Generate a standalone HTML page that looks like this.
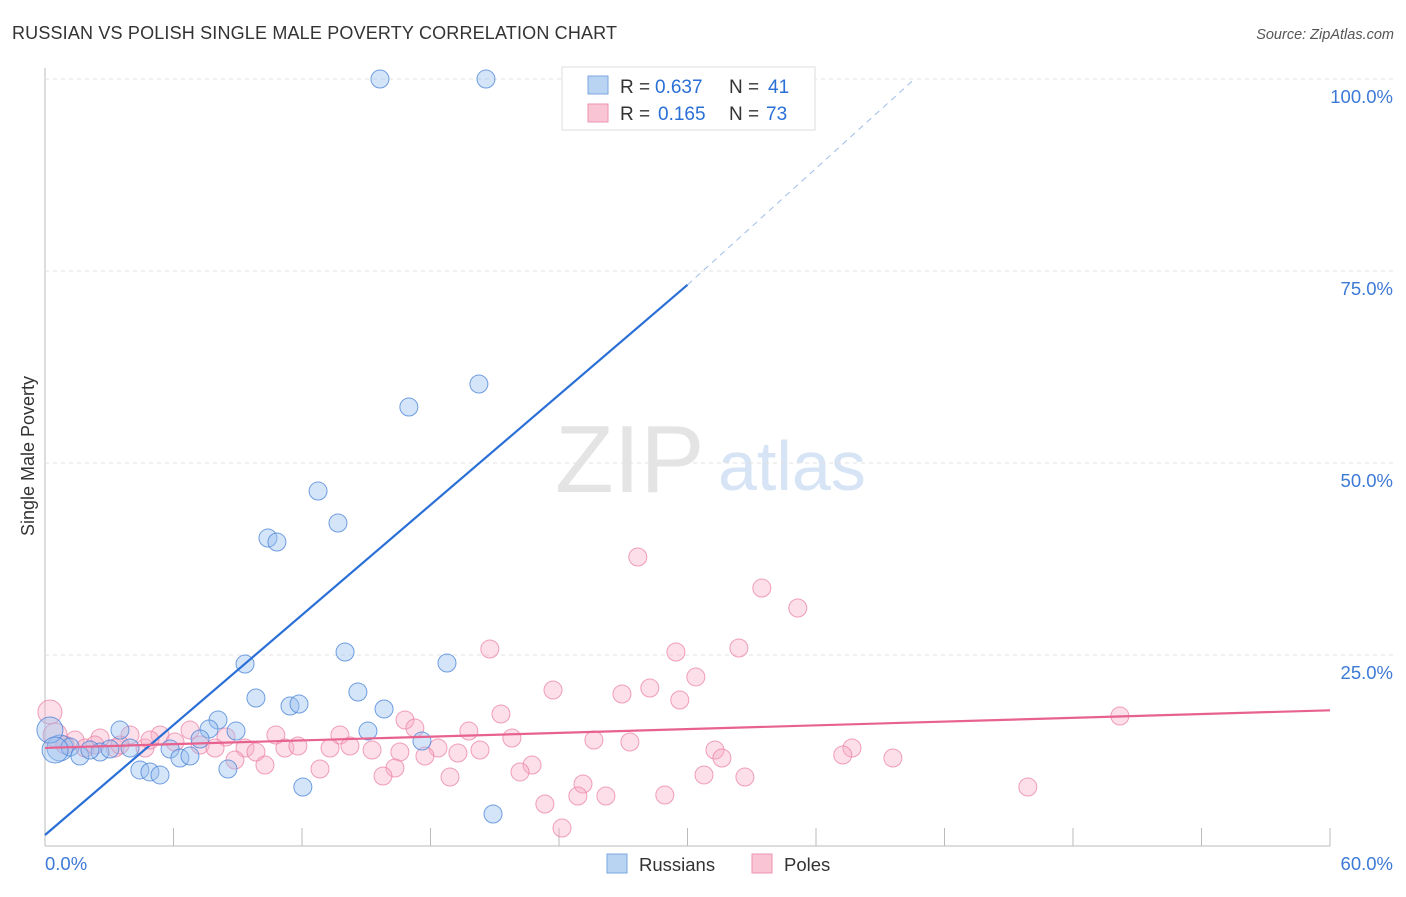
<!DOCTYPE html>
<html><head><meta charset="utf-8"><style>
body{margin:0;background:#fff;font-family:"Liberation Sans",sans-serif}
svg text{font-family:"Liberation Sans",sans-serif}
</style></head><body>
<svg id="c" width="1406" height="892">
<text x="12" y="39" font-size="18" fill="#333" textLength="605">RUSSIAN VS POLISH SINGLE MALE POVERTY CORRELATION CHART</text>
<text x="1394" y="39" font-size="14.5" fill="#555" font-style="italic" text-anchor="end">Source: ZipAtlas.com</text>
<g>
<text x="555" y="492" font-size="96" fill="#e4e4e4" font-family="Liberation Serif,serif">ZIP</text>
<text x="718" y="490" font-size="70" fill="#d6e4f5">atlas</text>
</g>
<g id="grid"></g><g id="pts"></g><g id="lines"></g>
<text x="34" y="456" font-size="18" fill="#333" text-anchor="middle" transform="rotate(-90 34 456)">Single Male Poverty</text>
<g>
<rect x="562" y="67" width="253" height="63" fill="#fff" stroke="#ddd"/>
<rect x="588" y="76" width="20" height="18" fill="#b9d3f3" stroke="#7aa7e0"/>
<rect x="588" y="104" width="20" height="18" fill="#f9c5d4" stroke="#ee93b0"/>
<text x="620" y="93" font-size="19" fill="#333">R = <tspan x="655" fill="#2a6fd6">0.637</tspan><tspan x="729">N =</tspan><tspan x="768" fill="#2a6fd6">41</tspan></text>
<text x="620" y="120" font-size="19" fill="#333">R = <tspan x="658" fill="#2a6fd6">0.165</tspan><tspan x="729">N =</tspan><tspan x="766" fill="#2a6fd6">73</tspan></text>
</g>
<g>
<rect x="607" y="854" width="20" height="19" fill="#b9d3f3" stroke="#7aa7e0"/>
<text x="639" y="871" font-size="18.5" fill="#333">Russians</text>
<rect x="752" y="854" width="20" height="19" fill="#f9c5d4" stroke="#ee93b0"/>
<text x="784" y="871" font-size="18.5" fill="#333">Poles</text>
</g>
</svg>
<script>
const xTicks=[0,6,12,18,24,30,36,42,48,54,60];
const yTicks=[25,50,75,100];
const yTickLabels=["25.0%","50.0%","75.0%","100.0%"];
const xEndLabels=["0.0%","60.0%"];
const rusX=[15.64,20.59,20.26,16.99,12.75,13.68,10.41,10.83,9.34,14.01,18.77,9.85,14.61,11.44,11.86,15.83,8.08,7.66,8.92,3.50,7.24,15.08,17.60,0.70,1.17,1.63,2.57,3.03,3.97,5.84,6.30,6.77,4.43,4.90,5.37,8.54,12.04,20.92,2.10,0.23,0.47];
const rusY=[100,100,60.29,57.29,46.35,42.19,40.23,39.71,23.83,25.39,23.96,19.40,20.18,18.36,18.62,17.97,16.54,15.36,15.10,15.23,14.06,15.10,13.80,12.89,13.02,11.85,12.37,12.76,12.89,12.76,11.59,11.85,10.03,9.77,9.38,10.16,7.81,4.30,12.63,15.23,12.63];
const polX=[27.68,33.47,35.15,20.77,29.46,32.40,30.39,23.72,26.94,28.24,29.64,50.19,21.29,16.81,17.27,19.79,21.80,25.63,27.31,13.77,10.78,8.45,6.77,5.37,3.97,2.57,1.40,0.23,0.47,0.93,1.87,3.27,4.67,6.07,7.24,7.94,9.34,9.85,11.20,11.81,13.31,14.24,15.27,16.57,18.35,19.28,20.31,31.28,31.61,37.68,37.25,39.59,17.74,16.34,10.27,8.87,12.84,22.74,22.18,18.91,15.78,30.77,32.68,25.12,24.88,26.19,28.94,23.34,24.14,45.89,4.90,3.50,2.33];
const polY=[37.76,33.72,31.12,25.78,25.39,25.91,22.14,20.44,19.92,20.70,19.14,17.06,17.32,16.54,15.49,15.10,14.19,13.93,13.67,14.58,14.58,14.32,15.23,14.58,14.58,14.19,13.93,17.58,14.58,13.28,12.89,12.89,12.89,13.67,13.28,12.89,12.89,12.37,12.89,13.15,12.89,13.15,12.63,12.37,12.89,12.24,12.63,12.63,11.59,12.89,11.98,11.59,11.85,10.29,10.68,11.33,10.16,10.68,9.77,9.11,9.24,9.38,9.11,8.20,6.64,6.64,6.77,5.60,2.47,7.81,13.93,13.28,13.28];
const rusTrend=[[0,1.56],[30,73.2],[40.6,100]];
const polTrend=[[0,12.9],[60,17.8]];
const NS="http://www.w3.org/2000/svg";
const X=v=>45+v*(1285/60), Y=v=>847-v*7.68;
function mk(p,t,a){const e=document.createElementNS(NS,t);for(const k in a)e.setAttribute(k,a[k]);p.appendChild(e);return e;}
const g=document.getElementById('grid'),pts=document.getElementById('pts'),ln=document.getElementById('lines');
let e=mk(g,'line',{x1:45,y1:68,x2:45,y2:846,stroke:'#bbb'});


e=mk(g,'line',{x1:45,y1:846,x2:1330,y2:846,stroke:'#bbb'});


xTicks.slice(1).forEach(t=>{e=mk(g,'line',{x1:X(t),y1:828,x2:X(t),y2:846,stroke:'#bbb'});

});
yTicks.forEach((t,i)=>{e=mk(g,'line',{x1:45,y1:Y(t),x2:1395,y2:Y(t),stroke:'#e2e2e2','stroke-dasharray':'4,4'});


e=mk(g,'text',{x:1393,y:Y(t)+24,'font-size':18.5,fill:'#3d7ad6','text-anchor':'end'});e.textContent=yTickLabels[i];

});
e=mk(g,'text',{x:45,y:870,'font-size':18.5,fill:'#3d7ad6'});e.textContent=xEndLabels[0];


e=mk(g,'text',{x:1393,y:870,'font-size':18.5,fill:'#3d7ad6','text-anchor':'end'});e.textContent=xEndLabels[1];


polX.forEach((x,i)=>{e=mk(pts,'circle',{cx:X(x),cy:Y(polY[i]),r:x<0.5?12:9,fill:'rgba(246,170,195,0.38)',stroke:'rgba(235,130,165,0.75)','stroke-width':1});

});
rusX.forEach((x,i)=>{e=mk(pts,'circle',{cx:X(x),cy:Y(rusY[i]),r:x<0.8?13:9,fill:'rgba(150,190,240,0.4)',stroke:'rgba(70,130,215,0.75)','stroke-width':1});

});
e=mk(ln,'line',{x1:X(rusTrend[0][0]),y1:Y(rusTrend[0][1]),x2:X(rusTrend[1][0]),y2:Y(rusTrend[1][1]),stroke:'#2a6fd6','stroke-width':2.2});


e=mk(ln,'line',{x1:X(rusTrend[1][0]),y1:Y(rusTrend[1][1]),x2:X(rusTrend[2][0]),y2:Y(rusTrend[2][1]),stroke:'#9dbce8','stroke-width':1,'stroke-dasharray':'6,5'});


e=mk(ln,'line',{x1:X(polTrend[0][0]),y1:Y(polTrend[0][1]),x2:X(polTrend[1][0]),y2:Y(polTrend[1][1]),stroke:'#e8628f','stroke-width':2.2});


</script>
</body></html>
